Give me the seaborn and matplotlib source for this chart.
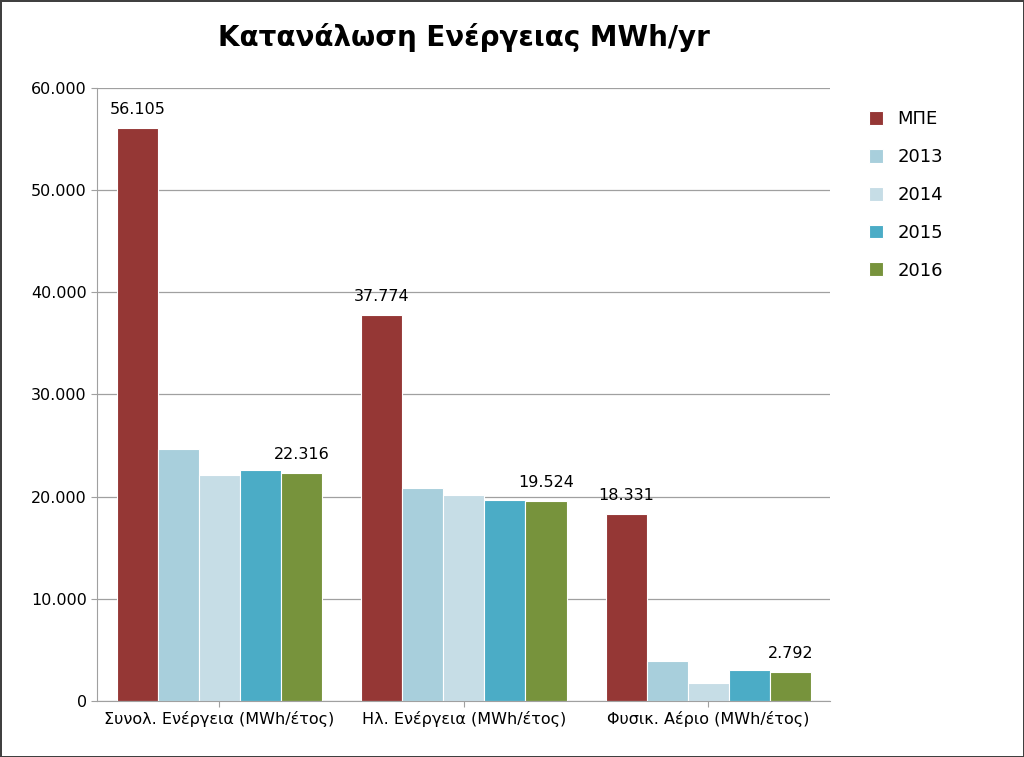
import matplotlib.pyplot as plt
import pandas as pd
import seaborn as sns
from matplotlib.ticker import FuncFormatter

categories = ["Συνολ. Ενέργεια (MWh/έτος)", "Ηλ. Ενέργεια (MWh/έτος)", "Φυσικ. Αέριο (MWh/έτος)"]
series = ["ΜΠΕ", "2013", "2014", "2015", "2016"]
values = {
    "ΜΠΕ": [56105, 37774, 18331],
    "2013": [24700, 20800, 3900],
    "2014": [22100, 20200, 1800],
    "2015": [22600, 19700, 3000],
    "2016": [22316, 19524, 2792],
}
colors = ["#953735", "#a8cfdc", "#c6dde6", "#4bacc6", "#77933c"]

rows = [(c, s, values[s][i]) for s in series for i, c in enumerate(categories)]
df = pd.DataFrame(rows, columns=["cat", "series", "value"])


def dotted(v, pos=None):
    return f"{int(round(v)):,}".replace(",", ".")


fig = plt.figure(figsize=(10.24, 7.57), dpi=100)
fig.patch.set_edgecolor("#404040")
fig.patch.set_linewidth(2)
ax = fig.add_axes([0.095, 0.074, 0.716, 0.81])

sns.barplot(data=df, x="cat", y="value", hue="series", palette=colors,
            width=0.84, ax=ax, saturation=1, edgecolor="white", linewidth=0.8)

ax.set_ylim(0, 60000)
ax.set_yticks(range(0, 60001, 10000))
ax.yaxis.set_major_formatter(FuncFormatter(dotted))
ax.yaxis.grid(True, color="#a0a0a0", linewidth=0.9)
ax.set_axisbelow(True)
ax.set_xlabel("")
ax.set_ylabel("")
for side in ["top", "right"]:
    ax.spines[side].set_visible(False)
for side in ["left", "bottom"]:
    ax.spines[side].set_color("#a0a0a0")
ax.tick_params(labelsize=11.5, colors="black", length=4, color="#a0a0a0")

# value labels for first and last series
for idx in [0, len(series) - 1]:
    cont = ax.containers[idx]
    ax.bar_label(cont, labels=[dotted(v) for v in values[series[idx]]],
                 padding=8, fontsize=11.5)

ax.set_title("Κατανάλωση Ενέργειας MWh/yr", fontsize=20, fontweight="bold", pad=30)
leg = ax.legend(loc="upper left", bbox_to_anchor=(1.03, 0.99), frameon=False,
                fontsize=13, labelspacing=1.1, handlelength=0.8, handleheight=0.8)

fig.savefig("out.png", dpi=100)
